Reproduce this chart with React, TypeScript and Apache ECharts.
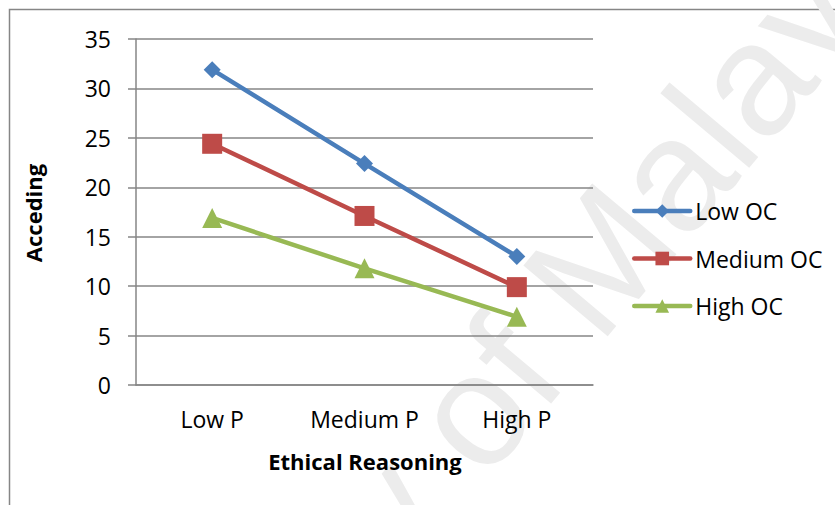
import React, { useEffect, useRef } from 'react';
import * as echarts from 'echarts';

const categories = ['Low P', 'Medium P', 'High P'];
const seriesNames = ['Low OC', 'Medium OC', 'High OC'];
const lowOC = [31.9, 22.4, 13];
const mediumOC = [24.4, 17.1, 9.9];
const highOC = [16.9, 11.8, 6.9];
const yMin = 0;
const yMax = 35;
const yInterval = 5;
const xTitle = 'Ethical Reasoning';
const yTitle = 'Acceding';
const watermarkBefore = 'University of ';
const watermarkAfter = 'Malaya';

const colors = ['#4A7EBB', '#BE4B48', '#98B954'];
const symbols = ['diamond', 'rect', 'triangle'];
const symbolSizes = [17, 20, 20];
const FONT = '"Open Sans", sans-serif';

export default function App() {
  const ref = useRef<HTMLDivElement>(null);
  useEffect(() => {
    if (!ref.current) return;
    const chart = echarts.init(ref.current, undefined, { renderer: 'svg' });
    const values = [lowOC, mediumOC, highOC];
    const rot = (50 * Math.PI) / 180;
    chart.setOption({
      animation: false,
      backgroundColor: '#ffffff',
      grid: { left: 136, right: 242, top: 39, bottom: 120 },
      xAxis: {
        type: 'category',
        data: categories,
        boundaryGap: true,
        axisLine: { show: true, lineStyle: { color: '#868686', width: 1.5 } },
        axisTick: { show: false },
        axisLabel: { color: '#000', fontFamily: FONT, fontSize: 23, margin: 22 },
        splitLine: { show: false },
      },
      yAxis: {
        type: 'value',
        min: yMin,
        max: yMax,
        interval: yInterval,
        axisLine: { show: true, lineStyle: { color: '#868686', width: 1.5 } },
        axisTick: { show: true, length: 8, lineStyle: { color: '#868686', width: 1.5 } },
        axisLabel: { color: '#000', fontFamily: FONT, fontSize: 23, margin: 25 },
        splitLine: { show: true, lineStyle: { color: '#868686', width: 1.5 } },
      },
      legend: {
        orient: 'vertical',
        left: 632,
        top: 198,
        padding: 0,
        itemWidth: 56,
        itemHeight: 17,
        itemGap: 21.5,
        lineStyle: { width: 4.5, cap: 'round' },
        textStyle: { color: '#000', fontFamily: FONT, fontSize: 23, lineHeight: 26 },
        data: seriesNames,
      },
      graphic: [
        {
          type: 'rect',
          z: -20,
          shape: { x: 9.5, y: 9.5, width: 900, height: 600 },
          style: { fill: 'none', stroke: '#868686', lineWidth: 1.5 },
        },
        {
          type: 'text',
          z: -10,
          x: 618,
          y: 362,
          rotation: rot,
          style: {
            text: watermarkBefore,
            fill: '#ececec',
            font: '160px "Liberation Sans", sans-serif',
            align: 'right',
            verticalAlign: 'bottom',
          },
        },
        {
          type: 'text',
          z: -10,
          x: 618,
          y: 362,
          rotation: rot,
          style: {
            text: watermarkAfter,
            fill: '#ececec',
            font: '160px "Liberation Sans", sans-serif',
            align: 'left',
            verticalAlign: 'bottom',
          },
        },
        {
          type: 'text',
          x: 365,
          y: 461,
          style: {
            text: xTitle,
            fill: '#000',
            font: 'bold 22px "Open Sans", sans-serif',
            align: 'center',
            verticalAlign: 'middle',
          },
        },
        {
          type: 'text',
          x: 33,
          y: 213,
          rotation: Math.PI / 2,
          style: {
            text: yTitle,
            fill: '#000',
            font: 'bold 22px "Open Sans", sans-serif',
            align: 'center',
            verticalAlign: 'middle',
          },
        },
      ],
      series: seriesNames.map((name, i) => ({
        name,
        type: 'line',
        data: values[i],
        symbol: symbols[i],
        symbolSize: symbolSizes[i],
        lineStyle: { color: colors[i], width: 4.5 },
        itemStyle: { color: colors[i] },
        z: 5,
      })),
    });
    return () => chart.dispose();
  }, []);
  return (
    <div
      ref={ref}
      style={{ position: 'fixed', left: 0, top: 0, width: 835, height: 505 }}
    />
  );
}
